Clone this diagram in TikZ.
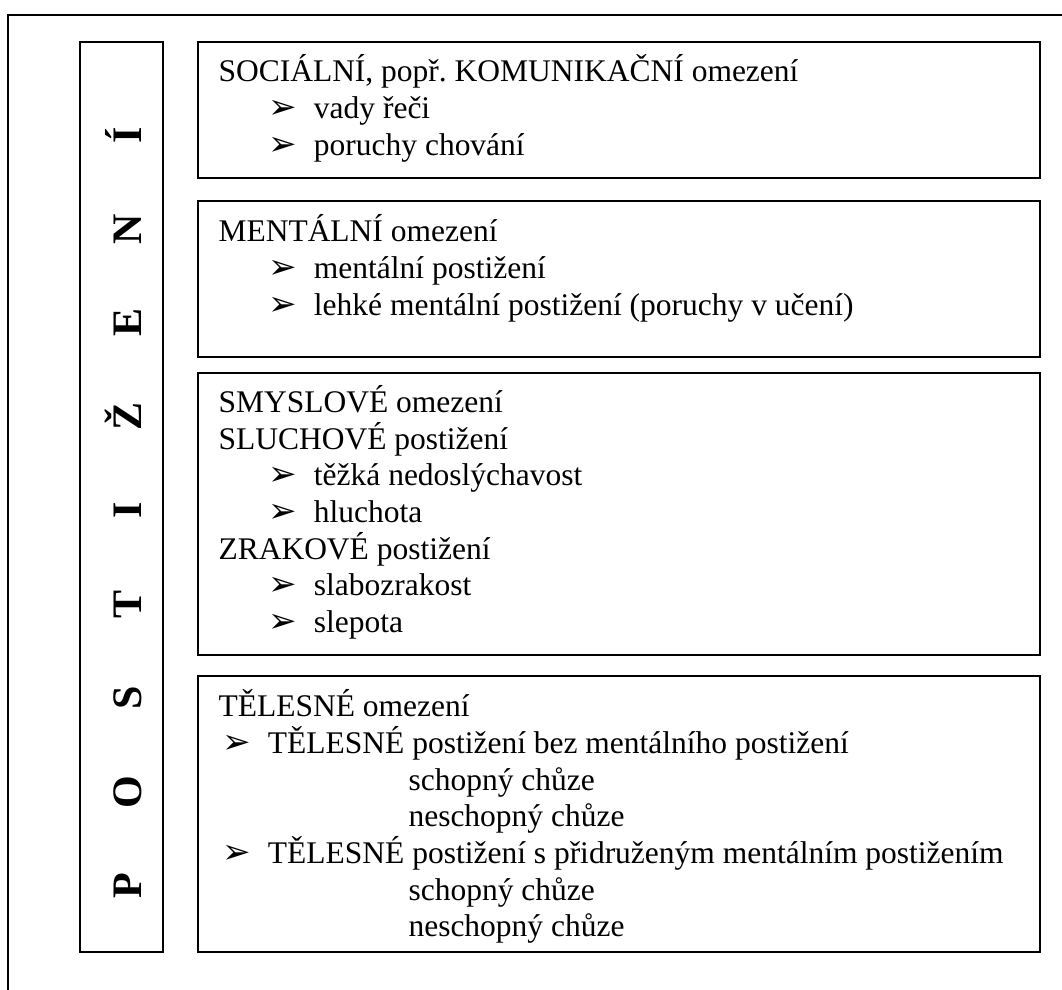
\documentclass[tikz,border=0pt]{standalone}
\usepackage{fontspec}
\setmainfont{Liberation Serif}
\newfontfamily\arrowfont{DejaVu Sans}
\usetikzlibrary{positioning}
\frenchspacing
\tikzset{
  frame/.style={draw, line width=0.6pt},
  panel/.style={draw, line width=0.8pt},
  entry/.style={anchor=base west, inner sep=0pt, font=\fontsize{12}{14}\selectfont},
  letter/.style={anchor=base, rotate=90, inner sep=0pt, font=\fontsize{16}{18}\selectfont\bfseries}
}
\newcommand{\tip}{\makebox[17.3pt][l]{\raisebox{-0.3pt}{\fontsize{13}{14}\arrowfont ➢}}}

\begin{document}
\begin{tikzpicture}[x=0.381pt, y=-0.381pt]
\useasboundingbox (0,0) rectangle (1062,990);

% Outer frame (runs off the page)
\draw[frame] (1062,15) -- (8,15) -- (8,990);

% Side strip
\draw[panel] (80,42) rectangle (163,952);
\foreach \ch [count=\i from 0] in {P,O,S,T,I,Ž,E,N,Í}
  \node[letter] (l\i) at (141.5,885.5-93.8*\i) {\ch};

% Boxes
\draw[panel] (198,42) rectangle (1040,178);
\draw[panel] (198,201) rectangle (1040,357);
\draw[panel] (198,373) rectangle (1040,655);
\draw[panel] (198,676) rectangle (1040,952);

% Social
\node[entry] (soc) at (218,81) {SOCIÁLNÍ, popř. KOMUNIKAČNÍ omezení};
\node[entry] (soc1) at (268,118) {\tip vady řeči};
\node[entry] (soc2) at (268,155) {\tip poruchy chování};

% Mental
\node[entry] (men) at (218,241) {MENTÁLNÍ omezení};
\node[entry] (men1) at (268,278) {\tip mentální postižení};
\node[entry] (men2) at (268,315) {\tip lehké mentální postižení (poruchy v učení)};

% Sensory
\node[entry] (smy) at (218,412) {SMYSLOVÉ omezení};
\node[entry] (slu) at (218,449) {SLUCHOVÉ postižení};
\node[entry] (slu1) at (268,485) {\tip těžká nedoslýchavost};
\node[entry] (slu2) at (268,522) {\tip hluchota};
\node[entry] (zra) at (218,559) {ZRAKOVÉ postižení};
\node[entry] (zra1) at (268,595) {\tip slabozrakost};
\node[entry] (zra2) at (268,632) {\tip slepota};

% Physical
\node[entry] (tel) at (218,716) {TĚLESNÉ omezení};
\node[entry] (tel1) at (222,753) {\tip TĚLESNÉ postižení bez mentálního postižení};
\node[entry] (tel1a) at (408,790) {schopný chůze};
\node[entry] (tel1b) at (408,826) {neschopný chůze};
\node[entry] (tel2) at (222,863) {\tip TĚLESNÉ postižení s přidruženým mentálním postižením};
\node[entry] (tel2a) at (408,900) {schopný chůze};
\node[entry] (tel2b) at (408,936) {neschopný chůze};
\end{tikzpicture}
\end{document}
